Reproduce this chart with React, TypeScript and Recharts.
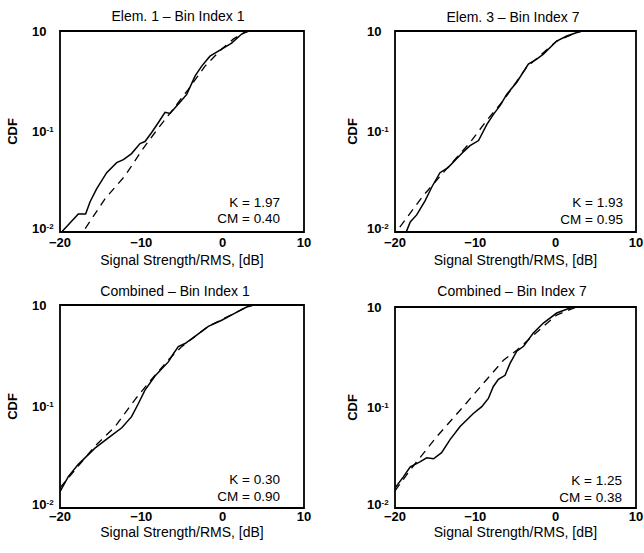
import React from 'react';
import { LineChart, Line, XAxis, YAxis, ReferenceArea, Label } from 'recharts';

const FONT = '"Liberation Sans", Arial, Helvetica, sans-serif';

const xTicks = [-20, -10, 0, 10];
const yTicks = [0.01, 0.1, 1];
const yTickExp = ['-2', '-1', ''];

// Elem. 1 - Bin Index 1
const e1MeasDb = [-19.8, -17.75, -16.85, -16.3, -15.5, -14.26, -13.03, -12.2, -11.2, -10.16, -9.55, -8.73, -7.9, -7.09, -6.47, -5.25, -4.42, -3.4, -2.58, -1.56, -0.12, 1.1, 2.34, 3.15];
const e1MeasCdf = [0.01, 0.0151, 0.0151, 0.02, 0.0269, 0.0389, 0.049, 0.0525, 0.0603, 0.0759, 0.0794, 0.0977, 0.123, 0.155, 0.151, 0.195, 0.234, 0.355, 0.447, 0.562, 0.661, 0.759, 0.933, 1.0];
const e1FitDb = [-16.9, -14.47, -12.0, -9.96, -8.32, -6.68, -4.22, -2.17, -0.12, 1.3, 2.75, 3.5];
const e1FitCdf = [0.0108, 0.0214, 0.0363, 0.0646, 0.0977, 0.145, 0.263, 0.447, 0.661, 0.83, 0.977, 1.0];

// Elem. 3 - Bin Index 7
const e3MeasDb = [-18.6, -18.5, -18.1, -17.3, -16.26, -15.4, -14.4, -13.4, -11.7, -10.66, -9.6, -8.58, -7.75, -6.9, -6.1, -4.84, -3.4, -2.35, -1.53, 0.13, 1.38, 2.83, 3.3];
const e3MeasCdf = [0.01, 0.0105, 0.0126, 0.0148, 0.0204, 0.0282, 0.0389, 0.0437, 0.0603, 0.0724, 0.0813, 0.117, 0.148, 0.182, 0.234, 0.309, 0.468, 0.525, 0.589, 0.794, 0.891, 0.977, 1.0];
const e3FitDb = [-19.4, -16.5, -14.0, -10.66, -8.58, -6.5, -3.6, 0.13, 2.83, 3.3];
const e3FitCdf = [0.0112, 0.0229, 0.0389, 0.0776, 0.129, 0.204, 0.437, 0.794, 0.977, 1.0];

// Combined - Bin Index 1
const c1MeasDb = [-20, -18.98, -17.75, -15.7, -14.06, -12.4, -11.2, -10.36, -9.55, -8.32, -6.68, -6.06, -5.45, -4.63, -3.4, -1.76, -0.12, 1.52, 2.95, 3.8];
const c1MeasCdf = [0.0145, 0.0204, 0.0269, 0.0389, 0.049, 0.0617, 0.0794, 0.107, 0.145, 0.2, 0.275, 0.331, 0.389, 0.417, 0.49, 0.617, 0.708, 0.832, 0.955, 1.0];
const c1FitDb = [-20, -15.7, -13.24, -10.78, -9.14, -6.68, -5.04, -1.76, 2.95, 3.8];
const c1FitCdf = [0.0158, 0.0407, 0.0631, 0.117, 0.17, 0.288, 0.389, 0.617, 0.955, 1.0];

// Combined - Bin Index 7
const c7MeasDb = [-20, -18.96, -18.1, -16.9, -16.05, -15.2, -14.2, -13.15, -11.9, -10.25, -9.2, -8.38, -7.76, -7.13, -6.3, -5.68, -4.84, -4.0, -2.78, -1.53, 0.13, 1.79, 2.6, 4.3];
const c7MeasCdf = [0.0158, 0.0204, 0.0257, 0.0288, 0.0316, 0.0309, 0.0355, 0.0479, 0.0646, 0.0871, 0.102, 0.123, 0.162, 0.191, 0.209, 0.275, 0.363, 0.407, 0.55, 0.692, 0.871, 0.977, 1.0, 1.0];
const c7FitDb = [-20, -18.1, -14.8, -11.5, -9.0, -6.5, -4.84, -2.35, 0.13, 2.6];
const c7FitCdf = [0.0148, 0.024, 0.0513, 0.102, 0.174, 0.295, 0.372, 0.562, 0.832, 1.0];

const toPoints = (db: number[], cdf: number[]) => db.map((d, i) => ({ db: d, cdf: cdf[i] }));

const panels = [
  {
    title: 'Elem. 1 - Bin Index 1', k: '1.97', cm: '0.40',
    meas: toPoints(e1MeasDb, e1MeasCdf), fit: toPoints(e1FitDb, e1FitCdf),
    left: 0, top: 0, height: 270, margin: { top: 31, right: 18, bottom: 0, left: 0 },
    yWidth: 60, cdfOffset: 12, tickMargin: 6, labelOffset: 5,
    titleX: 178, titleY: 16, statX: 280, kY: 202, cmY: 218,
  },
  {
    title: 'Elem. 3 - Bin Index 7', k: '1.93', cm: '0.95',
    meas: toPoints(e3MeasDb, e3MeasCdf), fit: toPoints(e3FitDb, e3FitCdf),
    left: 322, top: 0, height: 270, margin: { top: 31, right: 8, bottom: 0, left: 0 },
    yWidth: 73, cdfOffset: 30, tickMargin: 6, labelOffset: 5,
    titleX: 513, titleY: 17, statX: 623, kY: 202, cmY: 219,
  },
  {
    title: 'Combined - Bin Index 1', k: '0.30', cm: '0.90',
    meas: toPoints(c1MeasDb, c1MeasCdf), fit: toPoints(c1FitDb, c1FitCdf),
    left: 0, top: 270, height: 283, margin: { top: 35, right: 18, bottom: 7, left: 0 },
    yWidth: 60, cdfOffset: 12, tickMargin: 4, labelOffset: 9,
    titleX: 175, titleY: 291, statX: 280, kY: 479, cmY: 496,
  },
  {
    title: 'Combined - Bin Index 7', k: '1.25', cm: '0.38',
    meas: toPoints(c7MeasDb, c7MeasCdf), fit: toPoints(c7FitDb, c7FitCdf),
    left: 322, top: 270, height: 283, margin: { top: 37, right: 8, bottom: 7, left: 0 },
    yWidth: 73, cdfOffset: 30, tickMargin: 4, labelOffset: 9,
    titleX: 512, titleY: 291, statX: 622, kY: 480, cmY: 497,
  },
];

const YTick = (props: any) => {
  const { x, y, payload } = props;
  const i = yTicks.indexOf(payload.value);
  const exp = yTickExp[i];
  // lowest label sits a little above its tick, clear of the x tick labels
  const shift = i === 0 ? -4 : 0;
  return (
    <text x={x - 28} y={y + shift} dy="0.36em" fontSize={13} fontWeight="bold" fill="#000" fontFamily={FONT}>
      10
      {exp ? <tspan dy="-0.5em" fontSize={8}>{exp}</tspan> : null}
    </text>
  );
};

const fmtX = (v: number) => (v < 0 ? `\u2212${-v}` : `${v}`);

const Panel = ({ p }: { p: (typeof panels)[number] }) => (
  <div style={{ position: 'absolute', left: p.left, top: p.top }}>
    <LineChart width={322} height={p.height} margin={p.margin}>
      <XAxis
        type="number"
        dataKey="db"
        domain={[-20, 10]}
        ticks={xTicks}
        allowDataOverflow
        axisLine={false}
        tickLine={false}
        tickSize={0}
        tickMargin={p.tickMargin}
        tick={{ fill: '#000', fontSize: 13, fontWeight: 'bold', fontFamily: FONT }}
        tickFormatter={fmtX}
        height={38}
      >
        <Label
          value="Signal Strength/RMS, [dB]"
          position="insideBottom"
          offset={p.labelOffset}
          style={{ fontSize: 14, fill: '#000', fontFamily: FONT }}
        />
      </XAxis>
      <YAxis
        type="number"
        dataKey="cdf"
        scale="log"
        domain={[0.01, 1]}
        ticks={yTicks}
        allowDataOverflow
        width={p.yWidth}
        axisLine={false}
        tickLine={false}
        tickSize={0}
        tickMargin={0}
        tick={<YTick />}
      >
        <Label
          value="CDF"
          angle={-90}
          position="insideLeft"
          offset={p.cdfOffset}
          style={{ textAnchor: 'middle', fontSize: 13, fontWeight: 'bold', fill: '#000', fontFamily: FONT }}
        />
      </YAxis>
      <ReferenceArea x1={-20} x2={10} y1={0.01} y2={1} fill="none" stroke="#000" strokeWidth={1.8} />
      <Line
        data={p.fit}
        dataKey="cdf"
        type="linear"
        stroke="#000"
        strokeWidth={1.3}
        strokeDasharray="8 6"
        dot={false}
        activeDot={false}
        isAnimationActive={false}
      />
      <Line
        data={p.meas}
        dataKey="cdf"
        type="linear"
        stroke="#000"
        strokeWidth={1.5}
        dot={false}
        activeDot={false}
        isAnimationActive={false}
      />
    </LineChart>
  </div>
);

export default function App() {
  return (
    <div style={{ position: 'absolute', left: 0, top: 0, width: 644, height: 553, background: '#fff', fontFamily: FONT }}>
      {panels.map((p) => (
        <Panel key={p.title} p={p} />
      ))}
      <svg width={644} height={553} style={{ position: 'absolute', left: 0, top: 0, pointerEvents: 'none' }}>
        {panels.map((p) => (
          <g key={p.title} fontFamily={FONT} fill="#000">
            <text x={p.titleX} y={p.titleY} dy="0.36em" textAnchor="middle" fontSize={14}>
              {p.title.replace(' - ', ' \u2013 ')}
            </text>
            <text x={p.statX} y={p.kY} dy="0.36em" textAnchor="end" fontSize={13.5}>
              {`K = ${p.k}`}
            </text>
            <text x={p.statX} y={p.cmY} dy="0.36em" textAnchor="end" fontSize={13.5}>
              {`CM = ${p.cm}`}
            </text>
          </g>
        ))}
      </svg>
    </div>
  );
}
